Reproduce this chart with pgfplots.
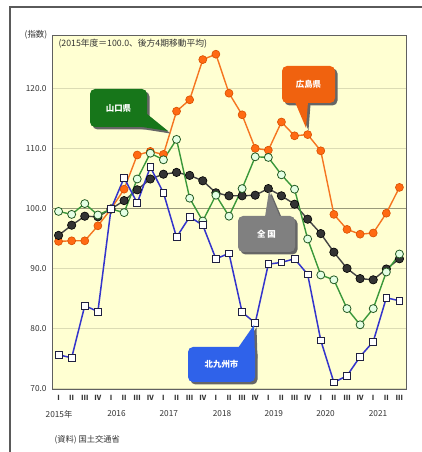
\documentclass[border=0pt]{standalone}
\usepackage{fontspec}
\setmainfont{Noto Sans CJK JP}
\usepackage{pgfplots}
\pgfplotsset{compat=1.18}
\usepackage{pgfplotstable}

\definecolor{plotbg}{HTML}{FFFFD2}
\definecolor{gridc}{HTML}{DCDCB4}
\definecolor{grid100}{HTML}{9A9A7A}
\definecolor{framec}{HTML}{5A5A5A}
\definecolor{txt}{HTML}{333333}
\definecolor{hiroL}{HTML}{F57520}
\definecolor{hiroM}{HTML}{FF6A13}
\definecolor{hiroD}{HTML}{D85000}
\definecolor{yamaL}{HTML}{3A983A}
\definecolor{yamaM}{HTML}{E4FFE4}
\definecolor{yamaD}{HTML}{245A24}
\definecolor{zenL}{HTML}{444444}
\definecolor{zenM}{HTML}{333333}
\definecolor{kitaL}{HTML}{3434CC}
\definecolor{kitaD}{HTML}{202040}
\definecolor{boxY}{HTML}{17761A}
\definecolor{boxH}{HTML}{F0620F}
\definecolor{boxZ}{HTML}{808080}
\definecolor{boxK}{HTML}{2F62EA}

% quarters: 0 = 2015 I ... 26 = 2021 III
\pgfplotstableread{
q  hiroshima yamaguchi zenkoku kitakyushu
0  94.6  99.6  95.6  75.7
1  94.7  99.1  97.3  75.2
2  94.7  100.9 98.8  83.9
3  97.2  99.0  98.7  82.9
4  100.0 100.0 100.0 100.0
5  103.3 99.4  101.4 105.2
6  109.0 105.0 103.2 101.0
7  109.6 109.3 105.0 107.0
8  109.1 108.2 105.8 102.7
9  116.3 111.6 106.1 95.3
10 118.2 101.8 105.6 98.7
11 124.9 98.0  104.7 97.3
12 125.8 102.3 102.7 91.7
13 119.3 98.8  102.2 92.6
14 115.7 103.4 102.2 82.8
15 110.1 108.7 102.3 81.0
16 109.8 108.6 103.4 90.8
17 114.5 105.7 102.2 91.1
18 112.2 103.3 100.8 91.7
19 112.4 95.0  98.3  89.1
20 109.7 89.0  95.9  78.1
21 99.1  88.2  92.8  71.1
22 96.6  83.4  90.1  72.2
23 95.8  80.7  88.4  75.4
24 96.0  83.4  88.2  77.9
25 99.3  89.5  90.0  85.2
26 103.6 92.5  91.7  84.7
}\data

\begin{document}
\begin{tikzpicture}
\useasboundingbox (0,0) rectangle (422bp,452bp);
\begin{axis}[
  at={(52bp,63bp)}, anchor=south west,
  scale only axis, width=354bp, height=354bp,
  xmin=-0.5, xmax=26.5, ymin=70, ymax=129,
  axis background/.style={fill=plotbg},
  axis line style={draw=gray!75!black, line width=0.8bp},
  tick style={draw=none},
  ytick={70,80,90,110,120},
  extra y ticks={100},
  ymajorgrids,
  grid style={gridc, line width=1bp},
  extra y tick style={grid style={grid100, line width=1bp}},
  /pgf/number format/.cd, fixed, fixed zerofill, precision=1, assume math mode=true,
  /pgfplots/.cd,
  yticklabel style={font=\fontsize{8.3}{9}\selectfont, text=txt, xshift=-2bp},
  xtick={0,...,26},
  xticklabels={Ⅰ,Ⅱ,Ⅲ,Ⅳ,Ⅰ,Ⅱ,Ⅲ,Ⅳ,Ⅰ,Ⅱ,Ⅲ,Ⅳ,Ⅰ,Ⅱ,Ⅲ,Ⅳ,Ⅰ,Ⅱ,Ⅲ,Ⅳ,Ⅰ,Ⅱ,Ⅲ,Ⅳ,Ⅰ,Ⅱ,Ⅲ},
  xticklabel style={font=\bfseries\fontsize{7}{7}\selectfont, text=txt, yshift=-3bp},
  clip=false,
]
\addplot[hiroL, line width=1.4bp, mark=*, mark size=4bp,
  mark options={fill=hiroM, draw=hiroD, line width=0.6bp}]
  table[x=q, y=hiroshima] {\data};
\addplot[zenL, line width=1.4bp, mark=*, mark size=4.2bp,
  mark options={fill=zenM, draw=black, line width=0.6bp}]
  table[x=q, y=zenkoku] {\data};
\addplot[yamaL, line width=1.4bp, mark=*, mark size=4bp,
  mark options={fill=yamaM, draw=yamaD, line width=0.8bp}]
  table[x=q, y=yamaguchi] {\data};
\addplot[kitaL, line width=1.5bp, mark=square*, mark size=3.4bp,
  mark options={fill=white, draw=kitaD, line width=0.8bp}]
  table[x=q, y=kitakyushu] {\data};
\end{axis}

\begin{scope}[shift={(0,452bp)}, x=1bp, y=-1bp]
  % outer frame
  \draw[framec, line width=1.5bp] (10,452) -- (10,7) -- (422,7);
  % texts
  \node[text=txt, font=\fontsize{8.5}{9}\selectfont] at (36,35) {(指数)};
  \node[text=txt, font=\fontsize{8.8}{9}\selectfont, anchor=west] at (55,44) {(2015年度＝100.0、後方4期移動平均)};
  \foreach \xx/\yy in {59/2015年, 116.5/2016, 168.8/2017, 222/2018, 273.8/2019, 325.5/2020, 378/2021}
    \node[text=txt, font=\fontsize{8.3}{9}\selectfont] at (\xx,414) {\yy};
  \node[text=txt, font=\fontsize{8.3}{9}\selectfont, anchor=west] at (51,440) {(資料)\ 国土交通省};

  % callout: Yamaguchi
  \begin{scope}[shift={(2.5,2.5)}]
    \fill[black!60, rounded corners=5] (90,89) rectangle (147,127);
    \fill[black!60] (136,126) -- (147,114) -- (168,131) -- cycle;
  \end{scope}
  \fill[boxY, rounded corners=5] (90,89) rectangle (147,127);
  \fill[boxY] (136,126) -- (147,114) -- (168,131) -- cycle;
  \node[text=white, font=\bfseries\fontsize{8.5}{10}\selectfont] at (118.5,108) {山口県};

  % callout: Hiroshima
  \begin{scope}[shift={(2.5,2.5)}]
    \fill[black!60, rounded corners=5] (282,66) rectangle (335,103);
    \fill[black!60] (295,102) -- (308,102) -- (306,128) -- cycle;
  \end{scope}
  \fill[boxH, rounded corners=5] (282,66) rectangle (335,103);
  \fill[boxH] (295,102) -- (308,102) -- (306,128) -- cycle;
  \node[text=white, font=\bfseries\fontsize{8.5}{10}\selectfont] at (308.5,84.5) {広島県};

  % callout: Zenkoku
  \begin{scope}[shift={(2.5,2.5)}]
    \fill[black!60, rounded corners=5] (238,216) rectangle (295,252);
    \fill[black!60] (265,217) -- (280,217) -- (269,191) -- cycle;
  \end{scope}
  \fill[boxZ, rounded corners=5] (238,216) rectangle (295,252);
  \fill[boxZ] (265,217) -- (280,217) -- (269,191) -- cycle;
  \node[text=white, font=\bfseries\fontsize{8.5}{10}\selectfont] at (266.5,234) {全\ 国};

  % callout: Kitakyushu
  \begin{scope}[shift={(2.5,2.5)}]
    \fill[black!60, rounded corners=5] (188,347) rectangle (255,382);
    \fill[black!60] (238,348) -- (255,356) -- (254,325) -- cycle;
  \end{scope}
  \fill[boxK, rounded corners=5] (188,347) rectangle (255,382);
  \fill[boxK] (238,348) -- (255,356) -- (254,325) -- cycle;
  \node[text=white, font=\bfseries\fontsize{8.5}{10}\selectfont] at (221.5,364.5) {北九州市};
\end{scope}
\end{tikzpicture}
\end{document}
